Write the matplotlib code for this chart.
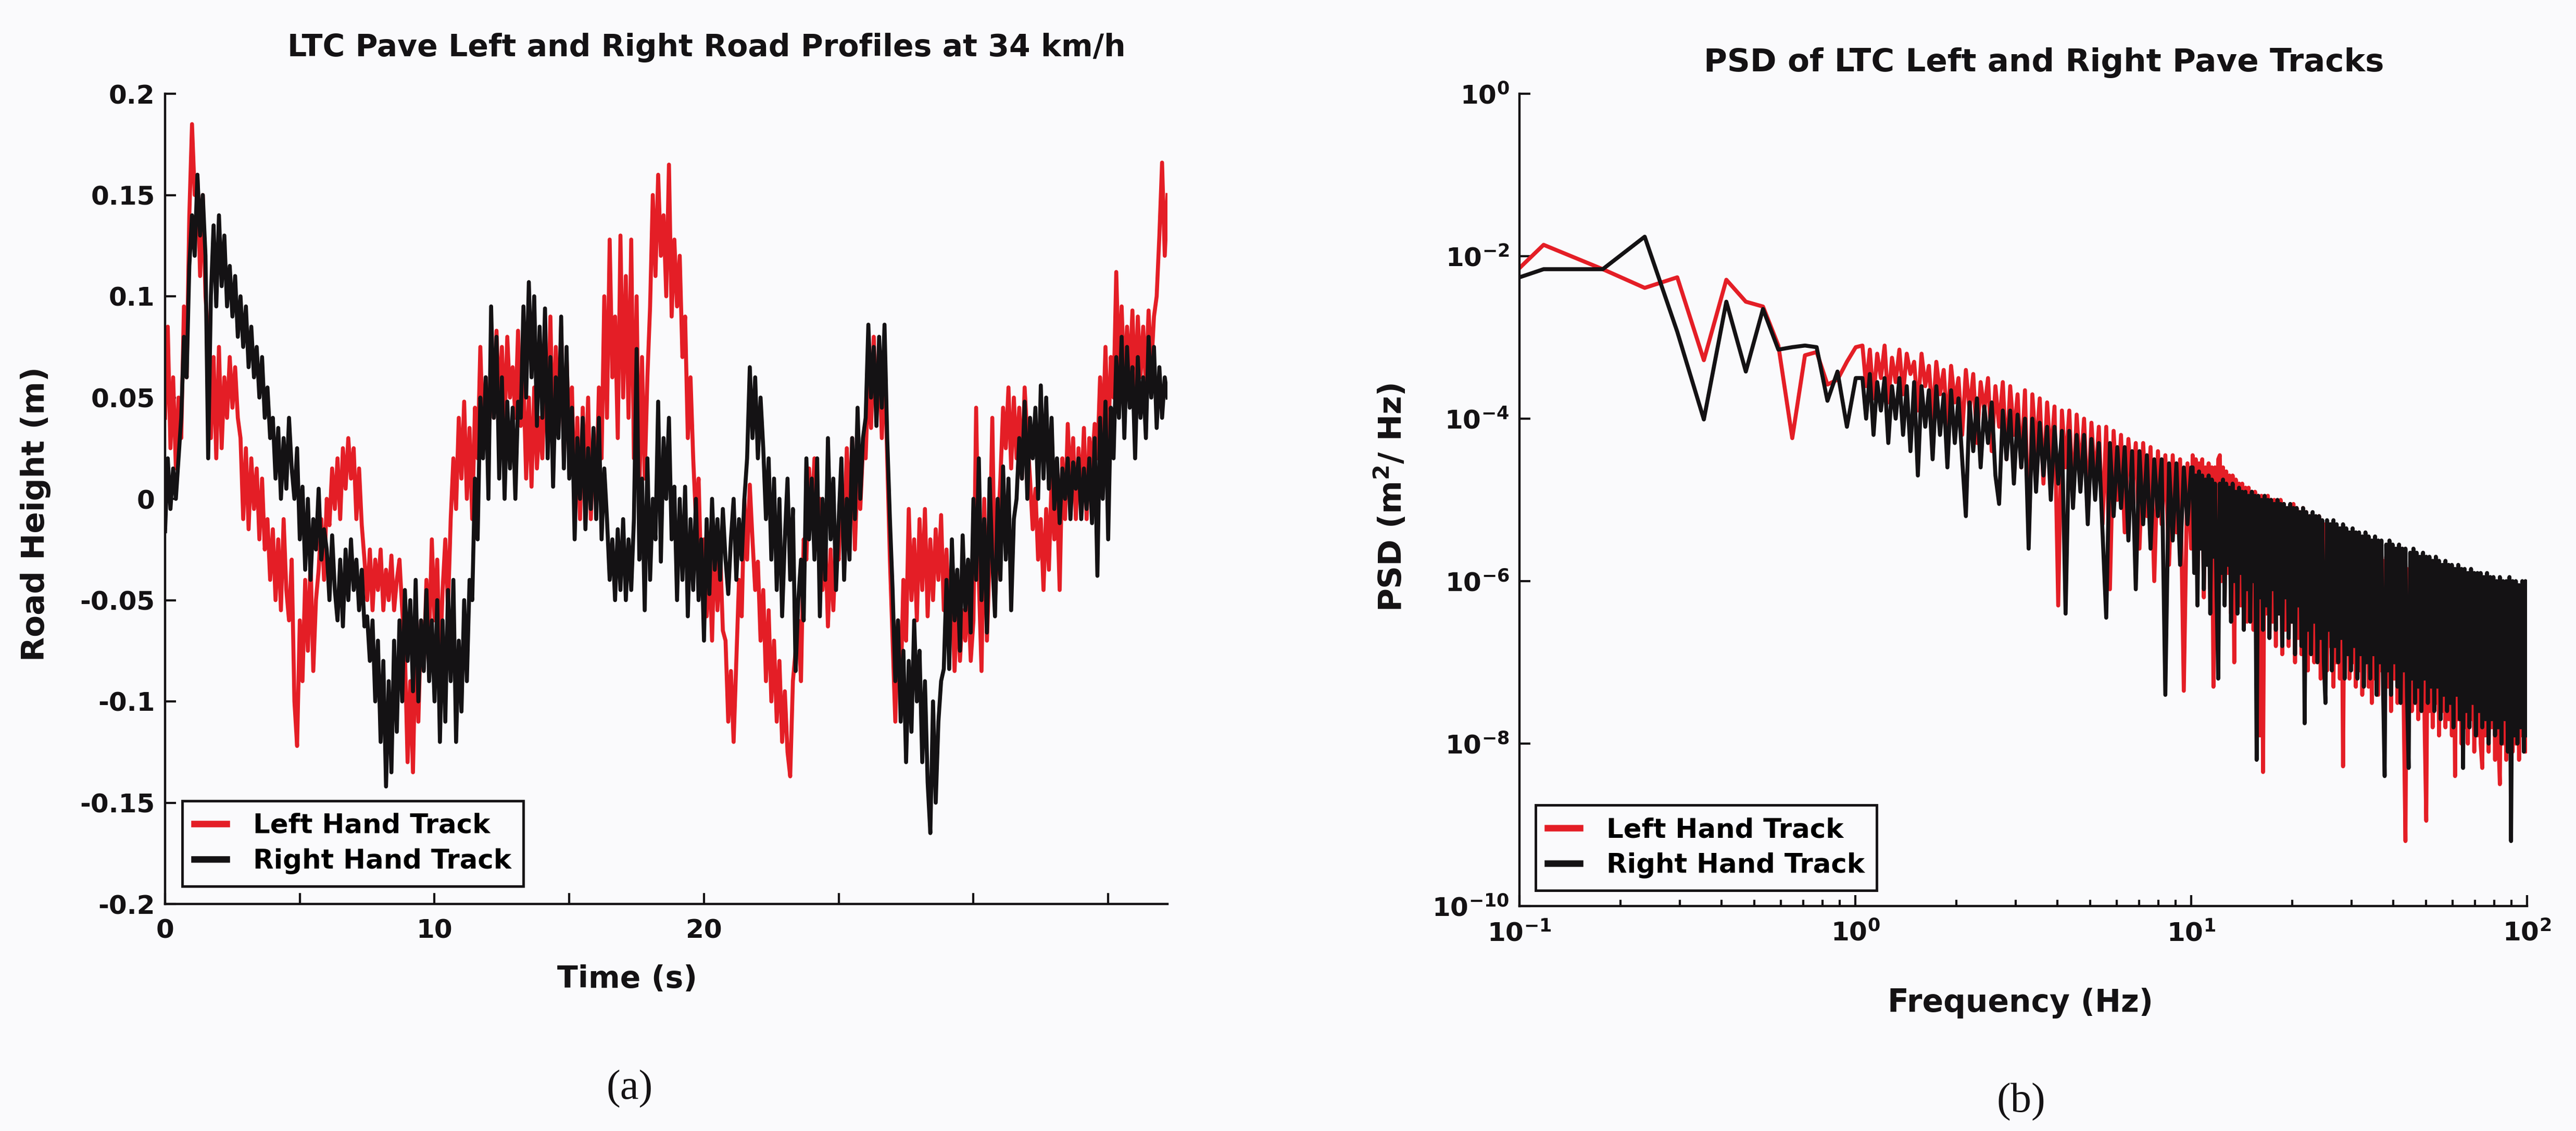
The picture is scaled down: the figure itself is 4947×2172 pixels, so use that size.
import matplotlib
matplotlib.use("Agg")
import matplotlib.pyplot as plt
from matplotlib.ticker import FixedLocator, FixedFormatter, NullLocator, LogLocator, LogFormatterSciNotation
import numpy as np

RED = '#e41e26'
BLACK = '#141214'
PAPER = '#fafafc'

#road profiles sampled every 0.1 s, heights in mm
sample_dt = 0.1
left_track_mm = [
    40, 85, 25, 60, 15, 50, 30, 95, 60, 140,
    185, 150, 160, 110, 150, 100, 80, 30, 70, 20,
    75, 25, 60, 40, 70, 45, 65, 40, 30, -10,
    25, -15, 20, -5, 15, -20, 10, -25, -10, -40,
    -15, -50, -20, -55, -10, -45, -60, -30, -100, -122,
    -60, -90, -40, -75, -30, -85, -50, -35, -10, -40,
    0, -13, 15, -5, 20, -10, 25, 5, 30, 10,
    25, -10, 15, -13, -30, -50, -25, -55, -30, -45,
    -25, -55, -35, -50, -28, -55, -40, -30, -55, -75,
    -130, -90, -135, -70, -110, -60, -84, -40, -70, -20,
    -60, -30, -84, -45, -20, -55, -10, 20, -5, 40,
    10, 48, 0, 35, -10, 45, 20, 75, 30, 60,
    25, 70, 40, 83, 45, 75, 36, 80, 50, 65,
    40, 83, 36, 60, 10, 50, 6, 55, 15, 40,
    20, 60, 30, 90, 25, 75, 40, 85, 20, 70,
    30, 55, -5, 40, -10, 45, 5, 50, -10, 30,
    0, 55, 20, 100, 40, 128, 60, 90, 30, 130,
    50, 110, 40, 128, 20, 100, 0, 70, 10, 60,
    95, 150, 110, 160, 120, 140, 100, 165, 90, 128,
    95, 120, 70, 90, 30, 60, 20, -10, 10, -40,
    -20, -58, -30, -70, -18, -55, -25, -65, -70, -110,
    -85, -120, -80, -40, -58, 0, -30, 7, -20, -45,
    -31, -70, -45, -90, -55, -100, -70, -110, -80, -120,
    -95, -125, -137, -90, -75, -60, -90, -20, -30, 15,
    -10, 20, -25, 0, -45, -18, -63, -25, -55, -20,
    -30, 10, -20, 25, -10, 30, -25, 15, -5, 25,
    20, 60, 35, 80, 40, 75, 30, 70, 20, -30,
    -70, -110, -60, -95, -40, -70, -5, -50, -20, -60,
    -10, -45, -5, -58, -20, -50, -15, -40, -8, -55,
    -25, -60, -45, -85, -50, -80, -55, -70, -45, -80,
    -60, 45, -40, -85, 0, -70, -30, 40, -50, -20,
    10, 45, 25, 55, 15, 50, 20, 45, 10, 55,
    30, 10, -15, 5, -30, -10, -45, -5, -35, 10,
    -20, 0, -45, 20, -10, 37, 5, 30, -10, 25,
    0, 35, -10, 30, 15, 37, 20, 60, 30, 75,
    25, 70, 50, 112, 60, 95, 55, 85, 60, 93,
    50, 90, 60, 85, 55, 93, 65, 90, 100, 130,
    166, 120, 150,
]
right_track_mm = [
    -16, 20, -5, 15, 0, 20, 40, 80, 60, 115,
    140, 120, 160, 130, 150, 120, 20, 100, 135, 95,
    140, 105, 130, 95, 115, 90, 110, 80, 100, 75,
    95, 65, 85, 60, 75, 50, 70, 40, 55, 30,
    40, 10, 35, 0, 30, 5, 40, 15, 0, 25,
    -20, 6, -35, 0, -40, -10, -25, 5, -30, -15,
    -25, -50, -18, -45, -60, -30, -63, -25, -50, -20,
    -45, -30, -55, -35, -63, -58, -80, -60, -100, -70,
    -120, -80, -142, -90, -135, -70, -115, -60, -100, -45,
    -80, -50, -95, -40, -100, -60, -85, -45, -90, -60,
    -100, -50, -120, -60, -110, -45, -90, -40, -120, -70,
    -105, -50, -90, -40, -50, 10, -20, 50, 20, 60,
    0, 95, 40, 80, 10, 60, 0, 48, 15, 45,
    0, 48, 40, 95, 50, 107, 60, 100, 36, 85,
    40, 94, 20, 70, 6, 60, 30, 90, 15, 75,
    10, 45, -20, 30, 0, 40, -15, 25, -5, 35,
    -10, 40, -20, 15, -10, -40, -20, -50, -15, -45,
    -10, -50, -20, -45, -10, 74, -30, 10, -55, 20,
    -40, 0, -20, 48, -31, 30, 0, 40, -20, 6,
    -50, 0, -40, 6, -58, -10, -45, 0, -50, -20,
    -70, -10, -47, 0, -35, -10, -40, -5, -30, -47,
    -20, 0, -40, -10, -30, 0, 20, 65, 30, 60,
    20, 50, 25, -10, 20, -30, 10, -45, 0, -58,
    -20, 10, -40, -5, -85, -50, -30, -60, 20, -20,
    10, -30, 20, -58, 0, -40, 30, -20, 10, -45,
    -10, 20, -40, 0, -30, 30, -10, 45, 0, 30,
    40, 86, 50, 75, 36, 80, 45, 86, 30, -10,
    -45, -90, -60, -110, -75, -130, -80, -115, -60, -100,
    -75, -130, -90, -140, -165, -100, -150, -110, -90, -84,
    -40, -84, -20, -60, -35, -75, -18, -55, -30, -66,
    0, -40, 20, -50, -10, -66, 10, -30, -58, 0,
    -40, 16, -30, 10, -55, -10, 0, 30, 10, 48,
    0, 40, 20, 45, 0, 56, 10, 50, 5, 40,
    -5, 20, -12, 15, 0, 20, -10, 18, 5, 20,
    -10, 15, -5, 20, -12, 30, -38, 40, 0, 48,
    -20, 45, 20, 70, 40, 80, 30, 75, 45, 65,
    20, 70, 40, 60, 30, 80, 50, 75, 35, 65,
    40, 60, 50,
]

height_ticks = [-0.2, -0.15, -0.1, -0.05, 0, 0.05, 0.1, 0.15, 0.2]
height_labels = ['-0.2', '-0.15', '-0.1', '-0.05', '0', '0.05', '0.1', '0.15', '0.2']
time_major = [0, 10, 20]
time_minor = [5, 15, 25, 30, 35]
time_end = 37.2

#PSD values are log10 of m^2/Hz
#below 1 Hz the spectrum bins are wide enough to read one by one
psd_bin_hz = [0.059, 0.118, 0.177, 0.236, 0.295, 0.354, 0.413, 0.472, 0.531,
              0.590, 0.649, 0.708, 0.767, 0.826, 0.885, 0.944, 1.003]
left_psd_low = [-3.06, -1.86, -2.16, -2.39, -2.26, -3.28, -2.29, -2.56, -2.62,
                -3.1, -4.24, -3.22, -3.18, -3.58, -3.52, -3.3, -3.12]
right_psd_low = [-2.58, -2.16, -2.16, -1.76, -2.93, -4.01, -2.56, -3.42, -2.65,
                 -3.15, -3.12, -3.1, -3.12, -3.78, -3.42, -4.1, -3.5]

#1 to 10 Hz
left_psd_mid = [
    -3.1, -3.6, -3.15, -3.75, -3.2, -3.5, -3.1, -3.8, -3.25, -3.55,
    -3.15, -3.7, -3.2, -3.45, -3.3, -3.9, -3.2, -3.6, -3.35, -4.0,
    -3.3, -3.7, -3.4, -4.1, -3.35, -3.8, -3.5, -4.2, -3.4, -3.9,
    -3.45, -4.3, -3.55, -3.9, -3.5, -4.4, -3.6, -4.1, -3.55, -4.5,
    -3.6, -4.2, -3.7, -4.6, -3.65, -5.5, -3.7, -4.4, -3.75, -4.8,
    -3.8, -4.5, -3.85, -6.3, -3.9, -4.6, -3.9, -5.0, -3.95, -4.7,
    -4.0, -5.1, -4.05, -4.8, -4.1, -5.3, -4.1, -6.1, -4.15, -5.0,
    -4.2, -5.4, -4.25, -4.9, -4.3, -5.6, -4.3, -5.2, -4.35, -6.0,
    -4.4, -5.3, -4.45, -5.8, -4.45, -5.4, -4.5, -7.35, -4.55, -5.6,
]
right_psd_mid = [
    -3.5, -4.0, -3.45, -4.2, -3.55, -3.9, -3.5, -4.3, -3.6, -4.0,
    -3.5, -4.2, -3.6, -4.4, -3.55, -4.7, -3.6, -4.1, -3.65, -4.5,
    -3.6, -4.2, -3.7, -4.6, -3.65, -4.3, -3.75, -4.5, -5.2, -3.8,
    -4.4, -3.75, -4.6, -3.85, -4.3, -3.8, -4.7, -5.05, -3.9, -4.5,
    -3.9, -4.8, -3.95, -4.6, -4.0, -5.6, -4.0, -4.9, -4.05, -4.7,
    -4.1, -5.0, -4.1, -4.8, -4.15, -6.4, -4.15, -5.1, -4.2, -4.9,
    -4.2, -5.3, -4.25, -5.0, -4.3, -5.4, -6.45, -4.3, -5.2, -4.35,
    -5.1, -4.35, -5.5, -4.4, -6.1, -4.4, -5.3, -4.45, -5.6, -4.5,
    -5.2, -4.5, -7.4, -4.55, -5.5, -4.55, -5.8, -4.6, -5.3, -4.6,
]

#10 to 100 Hz
left_psd_high = [
    -4.45, -5.6, -4.5, -6.0, -4.55, -5.4, -4.5, -6.2, -4.6, -5.7,
    -4.55, -6.1, -4.6, -7.3, -4.6, -5.8, -4.5, -4.45, -6.0, -4.6,
    -6.2, -4.65, -5.9, -4.7, -6.4, -4.7, -7.0, -4.75, -6.1, -4.8,
    -6.3, -4.8, -5.9, -4.85, -6.5, -4.85, -6.2, -4.9, -6.6, -4.9,
    -6.3, -4.95, -7.9, -4.95, -8.35, -5.0, -6.4, -4.95, -6.7, -5.0,
    -6.5, -5.0, -6.8, -5.05, -6.4, -5.0, -6.9, -5.05, -6.6, -5.1,
    -6.8, -5.1, -6.5, -5.05, -7.0, -5.1, -6.7, -5.15, -6.9, -5.1,
    -6.6, -5.15, -7.1, -5.2, -6.8, -5.2, -7.0, -5.25, -6.7, -5.2,
    -7.2, -5.3, -6.9, -5.3, -7.1, -5.35, -6.8, -5.35, -7.3, -5.4,
    -7.0, -5.4, -7.2, -5.45, -8.28, -5.45, -6.9, -5.5, -7.2, -5.5,
    -7.0, -5.55, -7.3, -5.55, -7.1, -5.6, -7.4, -5.6, -7.0, -5.65,
    -7.3, -5.6, -7.5, -5.65, -7.2, -5.7, -7.4, -5.7, -7.1, -5.75,
    -7.5, -5.7, -7.3, -5.75, -7.6, -5.8, -7.2, -5.8, -7.5, -5.8,
    -7.4, -5.85, -7.7, -9.2, -5.85, -7.3, -5.85, -7.6, -5.9, -7.4,
    -5.9, -7.7, -5.9, -7.5, -5.95, -7.8, -8.95, -5.95, -7.6, -5.95,
    -7.8, -5.95, -7.5, -6.0, -7.9, -6.0, -7.6, -6.0, -7.8, -6.0,
    -7.7, -6.05, -7.9, -6.05, -8.4, -6.05, -7.7, -6.05, -8.0, -6.1,
    -7.8, -6.1, -8.0, -6.1, -7.7, -6.1, -8.1, -6.1, -7.9, -6.15,
    -8.0, -8.3, -6.15, -7.9, -6.15, -8.1, -6.15, -7.8, -6.2, -8.2,
    -6.2, -7.9, -8.5, -6.2, -8.0, -6.2, -8.2, -6.25, -7.9, -6.25,
    -8.1, -6.25, -8.0, -6.3, -8.2, -6.3, -7.9, -6.3, -8.1, -6.3,
]
right_psd_high = [
    -4.6, -5.9, -4.7, -6.3, -4.65, -5.6, -4.7, -6.1, -4.75, -5.8,
    -4.7, -6.4, -4.75, -5.7, -4.8, -6.2, -7.2, -4.8, -5.9, -4.75,
    -6.3, -4.8, -5.8, -4.85, -6.5, -4.8, -6.0, -4.9, -6.4, -4.85,
    -5.9, -4.9, -6.6, -4.9, -6.1, -4.95, -6.5, -4.9, -6.0, -4.95,
    -8.2, -4.95, -6.2, -5.0, -6.6, -4.95, -6.3, -5.0, -6.7, -5.0,
    -6.1, -5.05, -6.6, -5.0, -6.4, -5.05, -6.8, -5.05, -6.2, -5.1,
    -6.7, -5.05, -6.5, -5.1, -6.9, -5.1, -6.3, -5.15, -6.8, -5.1,
    -7.75, -5.15, -6.6, -5.2, -6.9, -5.15, -6.5, -5.2, -7.0, -5.2,
    -6.7, -5.25, -7.0, -7.5, -5.25, -6.6, -5.3, -7.1, -5.25, -6.8,
    -5.3, -7.0, -5.35, -6.7, -5.3, -7.2, -5.35, -6.9, -5.4, -7.1,
    -5.35, -6.8, -5.4, -7.2, -5.4, -6.9, -5.45, -7.3, -5.4, -7.0,
    -5.45, -7.2, -5.5, -6.9, -5.45, -7.4, -5.5, -7.0, -5.5, -7.3,
    -8.4, -5.55, -7.1, -5.5, -7.4, -5.55, -7.0, -5.6, -7.3, -5.55,
    -7.5, -5.6, -7.1, -5.6, -7.4, -8.3, -5.65, -7.2, -5.6, -7.5,
    -5.65, -7.3, -5.7, -7.6, -5.65, -7.2, -5.7, -7.5, -5.7, -7.3,
    -5.75, -7.6, -5.7, -7.3, -5.75, -7.7, -5.8, -7.4, -5.75, -7.6,
    -5.8, -7.5, -5.8, -7.8, -5.85, -7.4, -5.8, -7.7, -5.85, -8.3,
    -5.85, -7.6, -5.9, -7.8, -5.85, -7.5, -5.9, -7.9, -5.9, -7.6,
    -5.9, -7.8, -5.95, -7.7, -5.9, -8.0, -5.95, -7.7, -5.95, -7.9,
    -6.0, -7.8, -5.95, -8.0, -6.0, -7.7, -6.0, -8.1, -5.95, -9.2,
    -6.0, -7.9, -6.0, -8.0, -6.05, -7.8, -6.0, -8.1, -6.0, -7.9,
]
psd_decades = [1e-10, 1e-8, 1e-6, 1e-4, 1e-2, 1e0]

W, H = 4947, 2172


def _fx(px):
    return px / W


def _fy(py):
    return 1 - py / H


def _style_axes(ax):
    '''MATLAB-like look: only left and bottom axis lines, ticks pointing inwards'''
    ax.patch.set_alpha(0)
    for side in ('top', 'right'):
        ax.spines[side].set_visible(False)
    for side in ('left', 'bottom'):
        ax.spines[side].set_linewidth(3.2)
        ax.spines[side].set_color(BLACK)
    ax.tick_params(which='both', direction='in', width=3, colors=BLACK, labelsize=36)
    ax.tick_params(which='major', length=15)
    ax.tick_params(which='minor', length=9)
    ax.tick_params(axis='y', pad=14)
    ax.tick_params(axis='x', pad=20)


def _legend(ax, anchor):
    leg = ax.legend(loc='lower left', bbox_to_anchor=anchor, borderaxespad=0,
                    prop={'size': 37, 'weight': 'bold'}, frameon=True, fancybox=False,
                    edgecolor=BLACK, facecolor=PAPER, framealpha=1, handlelength=1.2,
                    handletextpad=1.0, borderpad=0.45, labelspacing=0.35)
    leg.get_frame().set_linewidth(3.5)
    for line in leg.get_lines():
        line.set_linewidth(9)
    return leg


plt.rcParams['font.weight'] = 'bold'
plt.rcParams['mathtext.default'] = 'bf'
fig = plt.figure(figsize=(W / 100, H / 100), dpi=100, facecolor=PAPER)

#(a) road profiles
ax1 = fig.add_axes([_fx(317), _fy(1736), _fx(2242 - 317), (1736 - 180) / H])
left_m = np.array(left_track_mm) / 1000.0
right_m = np.array(right_track_mm) / 1000.0
ax1.plot(np.arange(len(left_m)) * sample_dt, left_m, color=RED, lw=5.5, label='Left Hand Track')
ax1.plot(np.arange(len(right_m)) * sample_dt, right_m, color=BLACK, lw=5.5, label='Right Hand Track')
ax1.set_xlim(0, time_end)
ax1.set_ylim(-0.2, 0.2)
ax1.yaxis.set_major_locator(FixedLocator(height_ticks))
ax1.yaxis.set_major_formatter(FixedFormatter(height_labels))
ax1.xaxis.set_major_locator(FixedLocator(time_major))
ax1.xaxis.set_minor_locator(FixedLocator(time_minor))
_style_axes(ax1)
ax1.tick_params(axis='x', which='minor', length=15)
_legend(ax1, (0.017, 0.022))

#(b) power spectral density
ax2 = fig.add_axes([_fx(2918), _fy(1740), _fx(4853 - 2918), (1740 - 180) / H])
freq = np.concatenate([psd_bin_hz,
                       np.geomspace(1.05, 10.0, len(left_psd_mid)),
                       np.geomspace(10.1, 100.0, len(left_psd_high))])
freq_r = np.concatenate([psd_bin_hz,
                         np.geomspace(1.05, 10.0, len(right_psd_mid)),
                         np.geomspace(10.1, 100.0, len(right_psd_high))])
left_psd = 10.0 ** np.array(left_psd_low + left_psd_mid + left_psd_high)
right_psd = 10.0 ** np.array(right_psd_low + right_psd_mid + right_psd_high)
ax2.loglog(freq, left_psd, color=RED, lw=5.5, label='Left Hand Track')
ax2.loglog(freq_r, right_psd, color=BLACK, lw=5.5, label='Right Hand Track')
ax2.set_xlim(0.1, 100)
ax2.set_ylim(1e-10, 1e0)
ax2.yaxis.set_major_locator(FixedLocator(psd_decades))
ax2.yaxis.set_major_formatter(LogFormatterSciNotation())
ax2.yaxis.set_minor_locator(NullLocator())
ax2.xaxis.set_major_locator(LogLocator(base=10, numticks=10))
ax2.xaxis.set_minor_locator(LogLocator(base=10, subs=np.arange(2, 10), numticks=20))
_style_axes(ax2)
_legend(ax2, (0.016, 0.019))

#titles, axis labels and panel letters
fig.text(_fx(1357), _fy(92), 'LTC Pave Left and Right Road Profiles at 34 km/h',
         ha='center', va='center', fontsize=42, color=BLACK)
fig.text(_fx(3925), _fy(120), 'PSD of LTC Left and Right Pave Tracks',
         ha='center', va='center', fontsize=44, color=BLACK)
fig.text(_fx(69), _fy(987), 'Road Height (m)', rotation=90,
         ha='center', va='center', fontsize=44, color=BLACK)
fig.text(_fx(2672), _fy(955), 'PSD (m$^{2}$/ Hz)', rotation=90,
         ha='center', va='center', fontsize=44, color=BLACK)
fig.text(_fx(1205), _fy(1881), 'Time (s)', ha='center', va='center', fontsize=42, color=BLACK)
fig.text(_fx(3880), _fy(1926), 'Frequency (Hz)', ha='center', va='center', fontsize=43, color=BLACK)
fig.text(_fx(1209), _fy(2091), '(a)', ha='center', va='center', fontsize=58,
         family='Liberation Serif', weight='normal', color=BLACK)
fig.text(_fx(3881), _fy(2116), '(b)', ha='center', va='center', fontsize=58,
         family='Liberation Serif', weight='normal', color=BLACK)

fig.savefig('out.png', dpi=100, facecolor=PAPER)
